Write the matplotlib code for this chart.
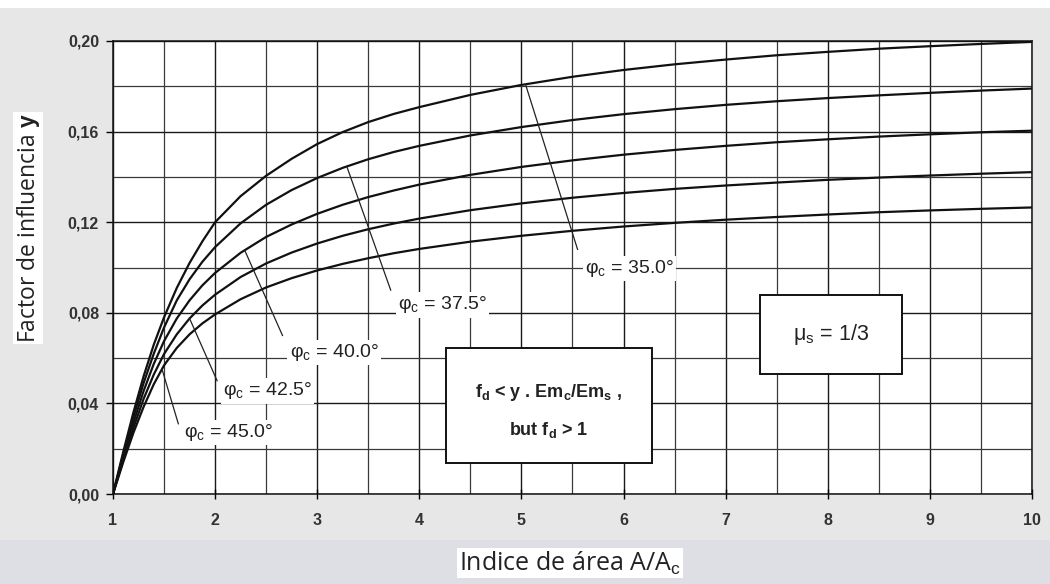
import numpy as np
import matplotlib
matplotlib.use("Agg")
import matplotlib.pyplot as plt
from matplotlib.ticker import MultipleLocator, FixedLocator
from matplotlib.patches import Rectangle

plt.rcParams["font.family"] = ["Liberation Sans", "DejaVu Sans"]
plt.rcParams["mathtext.fontset"] = "custom"
plt.rcParams["mathtext.rm"] = "Liberation Sans"
plt.rcParams["mathtext.it"] = "Liberation Sans:italic"
plt.rcParams["mathtext.bf"] = "Liberation Sans:bold"

# area index A/Ac
AREA_INDEX = [1.0, 1.1, 1.2, 1.3, 1.4, 1.5, 1.625, 1.75, 1.875, 2.0, 2.25, 2.5,
              2.75, 3.0, 3.25, 3.5, 3.75, 4.0, 4.5, 5.0, 5.5, 6.0, 6.5, 7.0,
              7.5, 8.0, 8.5, 9.0, 9.5, 10.0]

# influence factor y for each friction angle phi_c
Y_PHI_35 = [0, 0.0185, 0.036, 0.052, 0.066, 0.078, 0.091, 0.102, 0.1115, 0.120,
            0.1315, 0.1405, 0.1480, 0.1545, 0.1598, 0.1642, 0.1678, 0.1708,
            0.1762, 0.1806, 0.1842, 0.1872, 0.1897, 0.1918, 0.1937, 0.1952,
            0.1966, 0.1977, 0.1987, 0.1996]
Y_PHI_375 = [0, 0.0175, 0.034, 0.049, 0.062, 0.0735, 0.0855, 0.0948, 0.1025,
             0.1090, 0.1195, 0.1277, 0.1342, 0.1395, 0.1440, 0.1478, 0.1510,
             0.1537, 0.1583, 0.1620, 0.1651, 0.1677, 0.1699, 0.1718, 0.1734,
             0.1748, 0.1760, 0.1771, 0.1781, 0.1790]
Y_PHI_40 = [0, 0.016, 0.0315, 0.0455, 0.0575, 0.0675, 0.0775, 0.0855, 0.0921,
            0.0976, 0.1065, 0.1135, 0.1190, 0.1237, 0.1277, 0.1311, 0.1340,
            0.1366, 0.1409, 0.1444, 0.1473, 0.1498, 0.1519, 0.1537, 0.1553,
            0.1566, 0.1578, 0.1588, 0.1597, 0.1604]
Y_PHI_425 = [0, 0.015, 0.0292, 0.042, 0.0528, 0.0618, 0.0705, 0.0775, 0.0832,
             0.0880, 0.0958, 0.1018, 0.1066, 0.1106, 0.1140, 0.1169, 0.1194,
             0.1216, 0.1253, 0.1283, 0.1308, 0.1329, 0.1347, 0.1362, 0.1375,
             0.1387, 0.1397, 0.1406, 0.1414, 0.1421]
Y_PHI_45 = [0, 0.014, 0.027, 0.0385, 0.0485, 0.0568, 0.0645, 0.0705, 0.0753,
            0.0793, 0.0860, 0.0912, 0.0953, 0.0987, 0.1016, 0.1041, 0.1063,
            0.1082, 0.1114, 0.1140, 0.1162, 0.1181, 0.1197, 0.1211, 0.1223,
            0.1234, 0.1244, 0.1252, 0.1259, 0.1265]

CURVES = [Y_PHI_35, Y_PHI_375, Y_PHI_40, Y_PHI_425, Y_PHI_45]
CURVE_LABELS = ["35.0", "37.5", "40.0", "42.5", "45.0"]

# where each leader meets its curve, where it ends, and where the label sits
LEADER_X = [5.04, 3.29, 2.29, 1.75, 1.48]
LEADER_END = [(5.55, 0.108), (3.72, 0.090), (2.66, 0.070), (2.02, 0.050), (1.64, 0.031)]
LABEL_POS = [(5.62, 0.0995), (3.79, 0.0835), (2.73, 0.0625), (2.08, 0.0455), (1.70, 0.0270)]

X_TICKS = list(range(1, 11))
Y_TICKS = [0.0, 0.04, 0.08, 0.12, 0.16, 0.20]
Y_TICK_LABELS = ["0,00", "0,04", "0,08", "0,12", "0,16", "0,20"]


def add_box(ax, x0, x1, y0, y1):
    ax.add_patch(Rectangle((x0, y0), x1 - x0, y1 - y0, facecolor="white",
                           edgecolor="#111111", linewidth=1.4, zorder=5))


def main():
    fig = plt.figure(figsize=(10.5, 5.84), dpi=100, facecolor="#e7e7e7")

    # lighter strip along the bottom and a white strip at the top
    fig.patches.append(Rectangle((0, 0), 1, 0.075, transform=fig.transFigure,
                                 facecolor="#dedfe4", edgecolor="none", zorder=0))
    fig.patches.append(Rectangle((0, 0.986), 1, 0.014, transform=fig.transFigure,
                                 facecolor="white", edgecolor="none", zorder=0))

    ax = fig.add_axes([0.1076, 0.1541, 0.8752, 0.7757])
    ax.set_facecolor("white")
    ax.set_xlim(1, 10)
    ax.set_ylim(0, 0.20)

    ax.xaxis.set_major_locator(FixedLocator(X_TICKS))
    ax.xaxis.set_minor_locator(MultipleLocator(0.5))
    ax.yaxis.set_major_locator(FixedLocator(Y_TICKS))
    ax.yaxis.set_minor_locator(MultipleLocator(0.02))
    ax.set_yticklabels(Y_TICK_LABELS)

    ax.grid(which="major", color="#1a1a1a", linewidth=1.0)
    ax.grid(which="minor", color="#3a3a3a", linewidth=0.9)
    ax.set_axisbelow(True)

    for side in ["left", "bottom", "right", "top"]:
        ax.spines[side].set_color("#111111")
        ax.spines[side].set_linewidth(1.1)

    ax.tick_params(axis="y", which="major", direction="out", length=5, width=1,
                   pad=5, labelsize=11.5, labelcolor="#333333")
    ax.tick_params(axis="x", which="major", direction="inout", length=7, width=1,
                   pad=10, labelsize=11.5, labelcolor="#333333")
    ax.tick_params(which="minor", length=0)
    for lbl in ax.get_xticklabels() + ax.get_yticklabels():
        lbl.set_fontweight("bold")

    for ys in CURVES:
        ax.plot(AREA_INDEX, ys, color="#111111", linewidth=1.6, zorder=3,
                solid_joinstyle="round")

    # leaders and phi_c labels
    for ys, name, lx, end, pos in zip(CURVES, CURVE_LABELS, LEADER_X, LEADER_END, LABEL_POS):
        ly = np.interp(lx, AREA_INDEX, ys)
        ax.plot([lx, end[0]], [ly, end[1]], color="#222222", linewidth=0.9, zorder=3)
        ax.text(pos[0], pos[1], r"φ$_\mathrm{c}$ = " + name + "°", fontsize=14,
                ha="left", va="center", color="#222222", zorder=4,
                bbox=dict(facecolor="white", edgecolor="none", pad=1.5))

    # note boxes
    add_box(ax, 4.26, 6.28, 0.0137, 0.0645)
    ax.text(5.27, 0.0446, r"f$_\mathbf{d}$ < y . Em$_\mathbf{c}$/Em$_\mathbf{s}$ ,",
            fontsize=13, fontweight="bold", ha="center", va="center",
            color="#222222", zorder=6)
    ax.text(5.27, 0.0283, r"but f$_\mathbf{d}$ > 1",
            fontsize=13, fontweight="bold", ha="center", va="center",
            color="#222222", zorder=6)

    add_box(ax, 7.34, 8.73, 0.053, 0.0879)
    ax.text(8.03, 0.0702, r"μ$_\mathrm{s}$ = 1/3", fontsize=15.5, ha="center",
            va="center", color="#222222", zorder=6)

    fig.text(28 / 1050, 1 - 228 / 584, r"Factor de influencia $\mathbf{y}$",
             rotation=90, ha="center", va="center", fontsize=16.5,
             family=["Open Sans", "DejaVu Sans"], color="#222222",
             bbox=dict(facecolor="white", edgecolor="none", pad=1))
    fig.text(570 / 1050, 1 - 563 / 584, r"Indice de área A/A$_\mathrm{c}$",
             ha="center", va="center", fontsize=18,
             family=["Open Sans", "DejaVu Sans"], color="#222222",
             bbox=dict(facecolor="white", edgecolor="none", pad=1))

    fig.savefig("out.png", dpi=100, facecolor=fig.get_facecolor())
    plt.close(fig)


if __name__ == "__main__":
    main()
